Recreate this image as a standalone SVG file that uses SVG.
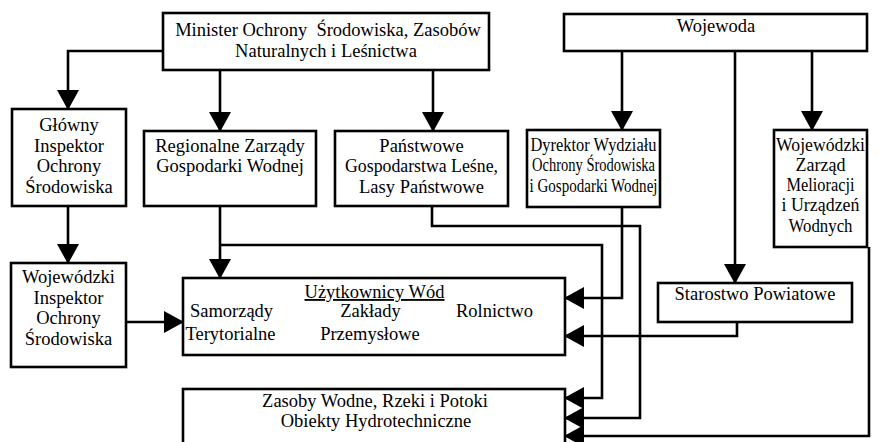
<svg xmlns="http://www.w3.org/2000/svg" width="878" height="442" viewBox="0 0 878 442">
<style>
.box{fill:#fff;stroke:#000;stroke-width:2.6}
.t{font-family:"Liberation Serif","Times New Roman",serif;font-size:18.5px;fill:#000;text-anchor:middle}
.c{fill:none;stroke:#000;stroke-width:2.6;marker-end:url(#ah)}
.u{text-decoration:underline}
</style>
<defs>
<marker id="ah" markerUnits="userSpaceOnUse" viewBox="0 0 20 22" refX="19" refY="11" markerWidth="20" markerHeight="22" orient="auto">
<path d="M0,0 L20,11 L0,22 Z" fill="#000"/>
</marker>
</defs>
<rect width="878" height="442" fill="#fff"/>
<g id="connectors">
<path class="c" d="M163,51 H68 V109"/>
<path class="c" d="M220,70 V131"/>
<path class="c" d="M433,70 V131"/>
<path class="c" d="M622,51 V130"/>
<path class="c" d="M735,51 V283"/>
<path class="c" d="M812,51 V130"/>
<path class="c" d="M68,206 V263"/>
<path class="c" d="M126,322 H183"/>
<path class="c" d="M220,206 V278"/>
<path class="c" d="M220,245 H602 V398 H565"/>
<path class="c" d="M432,206 V226 H640 V418 H565"/>
<path class="c" d="M622,207 V298 H565"/>
<path class="c" d="M737,322 V336 H565"/>
<path class="c" d="M869,247 V436 H565"/>
</g>
<g id="minister">
<rect class="box" x="163" y="13" width="326" height="57"/>
<text class="t" x="328" y="36" xml:space="preserve">Minister Ochrony  Środowiska, Zasobów</text>
<text class="t" x="326" y="57">Naturalnych i Leśnictwa</text>
</g>
<g id="wojewoda">
<rect class="box" x="564" y="14" width="303" height="37"/>
<text class="t" x="716" y="32">Wojewoda</text>
</g>
<g id="glowny">
<rect class="box" x="12" y="109" width="114" height="97"/>
<text class="t" x="69" y="131">Główny</text>
<text class="t" x="69" y="152">Inspektor</text>
<text class="t" x="69" y="172">Ochrony</text>
<text class="t" x="69" y="193">Środowiska</text>
</g>
<g id="regionalne">
<rect class="box" x="144" y="131" width="172" height="75"/>
<text class="t" x="230" y="152">Regionalne Zarządy</text>
<text class="t" x="230" y="172">Gospodarki Wodnej</text>
</g>
<g id="panstwowe">
<rect class="box" x="335" y="131" width="173" height="75"/>
<text class="t" x="421.5" y="152">Państwowe</text>
<text class="t" x="421.5" y="172" textLength="153" lengthAdjust="spacingAndGlyphs">Gospodarstwa Leśne,</text>
<text class="t" x="421.5" y="193">Lasy Państwowe</text>
</g>
<g id="dyrektor">
<rect class="box" x="527" y="130" width="133" height="77"/>
<text class="t" x="593.5" y="151" textLength="126" lengthAdjust="spacingAndGlyphs">Dyrektor Wydziału</text>
<text class="t" x="593.5" y="171" textLength="123" lengthAdjust="spacingAndGlyphs">Ochrony Środowiska</text>
<text class="t" x="593.5" y="192" textLength="128" lengthAdjust="spacingAndGlyphs">i Gospodarki Wodnej</text>
</g>
<g id="zarzad">
<rect class="box" x="774" y="130" width="93" height="117"/>
<text class="t" x="820.5" y="151" textLength="89" lengthAdjust="spacingAndGlyphs">Wojewódzki</text>
<text class="t" x="820.5" y="171" textLength="50" lengthAdjust="spacingAndGlyphs">Zarząd</text>
<text class="t" x="820.5" y="191" textLength="68" lengthAdjust="spacingAndGlyphs">Melioracji</text>
<text class="t" x="820.5" y="211" textLength="78" lengthAdjust="spacingAndGlyphs">i Urządzeń</text>
<text class="t" x="820.5" y="232" textLength="64" lengthAdjust="spacingAndGlyphs">Wodnych</text>
</g>
<g id="wojinspektor">
<rect class="box" x="11" y="263" width="115" height="104"/>
<text class="t" x="68.5" y="283">Wojewódzki</text>
<text class="t" x="68.5" y="304">Inspektor</text>
<text class="t" x="68.5" y="324">Ochrony</text>
<text class="t" x="68.5" y="345">Środowiska</text>
</g>
<g id="uzytkownicy">
<rect class="box" x="183" y="278" width="382" height="77"/>
<text class="t u" x="374.5" y="298">Użytkownicy Wód</text>
<text class="t" x="231.5" y="317">Samorządy</text>
<text class="t" x="370.5" y="317">Zakłady</text>
<text class="t" x="494.5" y="317">Rolnictwo</text>
<text class="t" x="230.5" y="340">Terytorialne</text>
<text class="t" x="370" y="340">Przemysłowe</text>
</g>
<g id="starostwo">
<rect class="box" x="658" y="283" width="194" height="39"/>
<text class="t" x="755" y="300">Starostwo Powiatowe</text>
</g>
<g id="zasoby">
<rect class="box" x="183" y="389" width="382" height="56"/>
<text class="t" x="375" y="407">Zasoby Wodne, Rzeki i Potoki</text>
<text class="t" x="376" y="427">Obiekty Hydrotechniczne</text>
</g>
</svg>
